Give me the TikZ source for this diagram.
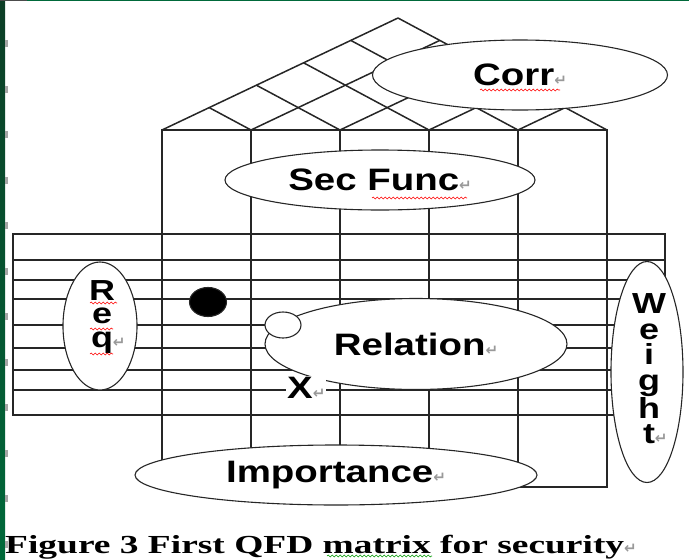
\documentclass[tikz,border=0pt]{standalone}
\usepackage{fontspec}
\setmainfont{Liberation Serif}
\newfontfamily\lblfont[FakeStretch=1.24]{Liberation Sans}
\newfontfamily\capfont[FakeStretch=1.44]{Liberation Serif}
\newfontfamily\symfont{DejaVu Sans}
\usetikzlibrary{shapes.geometric,decorations.pathmorphing,calc}
\definecolor{barg}{RGB}{0,105,58}
\definecolor{bardark}{RGB}{12,62,38}
\newcommand{\parmark}{{\symfont\color{black!40}\fontsize{15}{15}\selectfont ↵}}
\tikzset{
    %Define style for grid lines
    grid/.style={
           draw=black!85,
           line width=1.5pt},
    %Define style for label ellipses
    bubble/.style={
           ellipse,
           draw=black!85, line width=1.1pt,
           fill=white,
           inner sep=0pt,
           font=\lblfont\bfseries\fontsize{31}{31}\selectfont,
           text centered},
    stack/.style={
           align=center,
           inner sep=0pt,
           font=\lblfont\bfseries\fontsize{29}{23.5}\selectfont},
    spot/.style={
           ellipse,
           draw=black!85, line width=1.1pt,
           inner sep=0pt},
    % Define spell check underline
    spell/.style={
           draw=red, line width=0.6pt,
           decorate,
           decoration={snake, amplitude=0.9pt, segment length=4pt}}
}
\begin{document}
\begin{tikzpicture}[x=1pt,y=-1pt]
\useasboundingbox (0,0) rectangle (689,560);
% window edge
\shade[top color=bardark, bottom color=barg] (0,0) rectangle (5,560);
\draw[black!70, line width=1pt] (0,0.5) -- (27,0.5);
\draw[barg, line width=1pt] (27,0.5) -- (689,0.5);
\foreach \y in {40,85.5,...,560}
    \fill[black!35] (5,\y) rectangle (8,\y+7);
% requirement rows
\draw[grid] (13,234) rectangle (665,415);
\foreach \y in {260,280,299,325,348,370,390}
    \draw[grid] (13,\y) -- (665,\y);
% function columns
\coordinate (L) at (162,130);
\coordinate (R) at (607,130);
\coordinate (A) at (398,18);
\draw[grid] (L) rectangle (607,487);
\foreach \i in {1,...,4}
    \draw[grid] ($(L)!\i/5!(R)$) -- ++(0,357);
% roof
\draw[grid, line join=round] (L) -- (A) -- (R);
\foreach \i in {1,...,4} {
    \draw[grid] ($(L)!\i/5!(R)$) -- ($(R)!{(5-\i)/5}!(A)$);
    \draw[grid] ($(L)!\i/5!(R)$) -- ($(L)!\i/5!(A)$);
}
% labels
\node[bubble, minimum width=295pt, minimum height=70pt] (corr) at (520,75) {Corr\parmark};
\node[bubble, minimum width=310pt, minimum height=60pt] (secfunc) at (380,180) {Sec Func\parmark};
\node[bubble, minimum width=302pt, minimum height=91pt] (relation) at (416,344) {Relation\parmark};
\node[spot, fill=white, minimum width=36pt, minimum height=26pt] (link) at (283,325) {};
\node[spot, fill=black, minimum width=37pt, minimum height=29pt] (dot) at (208,302) {};
\node[bubble, minimum width=402pt, minimum height=60pt] (importance) at (336,475) {Importance\parmark};
\node[bubble, minimum width=74pt, minimum height=128pt] (req) at (100,326) {};
\node[stack] (reqtext) at (102,317) {R\\e\\q\rlap{\parmark}};
\node[bubble, minimum width=72pt, minimum height=221pt] (weight) at (647,372) {};
\node[stack, font=\lblfont\bfseries\fontsize{29}{25.5}\selectfont] (weighttext) at (649,369) {W\\e\\i\\g\\h\\t\rlap{\parmark}};
\node[anchor=west, fill=white, inner sep=1pt, font=\lblfont\bfseries\fontsize{31}{31}\selectfont] (cross) at (286,388) {X\parmark};
\node[anchor=base west, inner sep=0pt, font=\capfont\bfseries\fontsize{26}{26}\selectfont] (caption) at (5,553) {Figure 3 First QFD matrix for security\parmark};
% spelling marks
\draw[spell] (480,90) -- (560,90);
\draw[spell] (372,198) -- (467,198);
\draw[spell] (90,303) -- (117,303);
\draw[spell] (90,329) -- (113,329);
\draw[spell] (90,354) -- (113,354);
\draw[spell, draw=green!60!black] (327,556) -- (432,556);
\end{tikzpicture}
\end{document}
